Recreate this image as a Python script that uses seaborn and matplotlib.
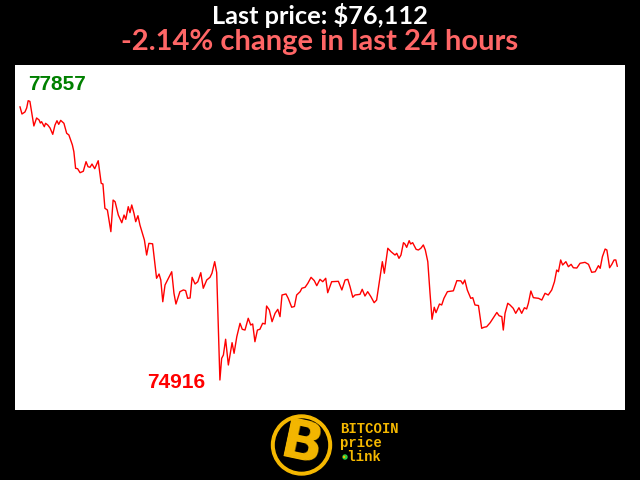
import matplotlib
matplotlib.use("Agg")
import matplotlib.pyplot as plt
from matplotlib.patches import Circle
import seaborn as sns

# hours since start of the 24h window, and BTC price (USD)
hours = [0.00, 0.08, 0.20, 0.27, 0.33, 0.40, 0.56, 0.67, 0.77, 0.82, 0.87, 0.98,
         1.03, 1.12, 1.21, 1.32, 1.41, 1.49, 1.56, 1.64, 1.77, 1.88, 1.97, 2.04,
         2.11, 2.17, 2.24, 2.32, 2.42, 2.55, 2.66, 2.74, 2.82, 2.90, 3.01, 3.15,
         3.27, 3.34, 3.42, 3.52, 3.66, 3.75, 3.83, 3.96, 4.10, 4.19, 4.26, 4.36,
         4.43, 4.50, 4.59, 4.66, 4.75, 4.83, 4.93, 5.01, 5.10, 5.19, 5.34, 5.50,
         5.60, 5.67, 5.75, 5.84, 6.11, 6.20, 6.28, 6.44, 6.58, 6.67, 6.75, 6.85,
         6.93, 7.05, 7.16, 7.28, 7.38, 7.52, 7.65, 7.73, 7.84, 7.92, 8.05, 8.12,
         8.19, 8.28, 8.39, 8.54, 8.62, 8.73, 8.86, 8.95, 9.06, 9.19, 9.29, 9.37,
         9.46, 9.56, 9.66, 9.77, 9.87, 9.93, 10.04, 10.15, 10.27, 10.38, 10.47, 10.55,
         10.71, 10.80, 10.94, 11.05, 11.14, 11.28, 11.35, 11.48, 11.59, 11.72, 11.85, 11.95,
         12.08, 12.19, 12.31, 12.39, 12.55, 12.82, 12.96, 13.09, 13.20, 13.29, 13.40, 13.49,
         13.69, 13.78, 13.89, 14.00, 14.13, 14.26, 14.36, 14.46, 14.59, 14.67, 14.81, 14.94,
         15.10, 15.17, 15.26, 15.34, 15.44, 15.50, 15.57, 15.67, 15.73, 15.81, 15.95, 16.04,
         16.14, 16.24, 16.32, 16.42, 16.51, 16.59, 16.68, 16.75, 16.89, 16.98, 17.07, 17.21,
         17.45, 17.59, 17.75, 17.83, 17.91, 18.01, 18.15, 18.23, 18.32, 18.46, 18.59, 18.68,
         18.79, 18.93, 19.20, 19.29, 19.40, 19.46, 19.53, 19.64, 19.73, 19.86, 19.96, 20.09,
         20.20, 20.31, 20.40, 20.47, 20.57, 20.67, 20.88, 21.01, 21.14, 21.27, 21.41, 21.52,
         21.61, 21.68, 21.77, 21.85, 21.98, 22.08, 22.19, 22.28, 22.42, 22.55, 22.75, 22.89,
         23.02, 23.16, 23.29, 23.36, 23.45, 23.56, 23.63, 23.74, 23.83, 23.92, 23.99, 24.05]

prices = [77794, 77717, 77738, 77780, 77857, 77850, 77591, 77675, 77654, 77622, 77636, 77583,
          77619, 77601, 77570, 77503, 77601, 77646, 77608, 77650, 77619, 77514, 77496, 77443,
          77391, 77320, 77145, 77141, 77099, 77114, 77215, 77162, 77156, 77190, 77141, 77225,
          76987, 76980, 76724, 76706, 76478, 76811, 76793, 76653, 76572, 76653, 76608, 76741,
          76678, 76759, 76671, 76583, 76646, 76548, 76461, 76390, 76232, 76355, 76350, 75987,
          76032, 75969, 75740, 75916, 76056, 75829, 75716, 75846, 75864, 75857, 75776, 75780,
          75997, 75927, 75951, 76046, 75882, 75969, 75997, 76040, 76162, 76048, 74916, 75144,
          75179, 75345, 75074, 75309, 75197, 75372, 75513, 75450, 75442, 75566, 75495, 75506,
          75319, 75442, 75450, 75513, 75506, 75695, 75653, 75530, 75618, 75660, 75583, 75811,
          75822, 75776, 75682, 75690, 75811, 75846, 75882, 75892, 75934, 75997, 75962, 75909,
          75976, 75951, 75987, 75835, 75951, 75955, 75864, 75969, 75976, 75898, 75787, 75811,
          75818, 75871, 75800, 75846, 75793, 75730, 75758, 75934, 76162, 76040, 76303, 76267,
          76232, 76250, 76197, 76232, 76362, 76348, 76313, 76383, 76348, 76362, 76292, 76285,
          76303, 76338, 76285, 76162, 75829, 75555, 75682, 75625, 75716, 75706, 75776, 75846,
          75855, 75962, 75960, 75927, 75969, 75864, 75776, 75783, 75706, 75700, 75460, 75471,
          75477, 75519, 75627, 75593, 75583, 75442, 75618, 75724, 75706, 75671, 75618, 75677,
          75618, 75677, 75664, 75724, 75853, 75783, 75776, 75758, 75829, 75811, 75864, 75951,
          76074, 76056, 76180, 76127, 76162, 76109, 76134, 76098, 76095, 76145, 76155, 76134,
          76050, 76056, 76120, 76092, 76214, 76295, 76285, 76098, 76134, 76180, 76180, 76112]

title_line = "Last price: $76,112"
change_line = "-2.14% change in last 24 hours"

sns.set_style("white")
plt.rcParams['font.family'] = ['Lato', 'DejaVu Sans']

fig = plt.figure(figsize=(6.4, 4.8), dpi=100, facecolor="black")
ax = fig.add_axes([15/640, 70/480, 610/640, 345/480])
ax.set_facecolor("white")

sns.lineplot(x=hours, y=prices, ax=ax, color="red", linewidth=1, estimator=None, sort=False)

ax.set_xlim(-0.20, 24.36)
ax.set_ylim(74600, 78233)
ax.set_xticks([])
ax.set_yticks([])
ax.set_xlabel("")
ax.set_ylabel("")
for s in ax.spines.values():
    s.set_visible(False)

# high / low labels
imax = prices.index(max(prices))
imin = prices.index(min(prices))
ax.annotate(str(max(prices)), (hours[imax], prices[imax]), xytext=(0, 16),
            textcoords="offset pixels", ha="left", va="center", color="green",
            fontsize=15, fontweight="bold", family="Liberation Sans")
ax.annotate(str(min(prices)), (hours[imin], prices[imin]), xytext=(-15, -3),
            textcoords="offset pixels", ha="right", va="center", color="red",
            fontsize=15, fontweight="bold", family="Liberation Sans")

fig.text(0.5, 1 - 16/480, title_line, color="white", fontsize=18.3, fontweight="bold",
         ha="center", va="center")
fig.text(0.5, 1 - 42/480, change_line, color="#ff6666", fontsize=21, fontweight="bold",
         ha="center", va="center")

# logo
gold = "#f5b800"
lax = fig.add_axes([0, 0, 1, 70/480])
lax.set_xlim(0, 640)
lax.set_ylim(0, 70)
lax.axis("off")
lax.add_patch(Circle((301.5, 35), 30, color=gold))
lax.add_patch(Circle((301.5, 35), 26, color="black"))
lax.text(302, 34, "B", color=gold, fontsize=40, fontweight="heavy", ha="center", va="center",
         rotation=-12, family="DejaVu Sans")
lax.text(340, 51, "BITCOIN", color=gold, fontsize=10, fontweight="bold", ha="left", va="center",
         family="Liberation Mono")
lax.text(340, 37, "price", color=gold, fontsize=10, fontweight="bold", ha="left", va="center",
         family="Liberation Mono")
lax.text(340, 23, "\u00b7link", color=gold, fontsize=10, fontweight="bold", ha="left", va="center",
         family="Liberation Mono")
lax.add_patch(Circle((345, 23), 2, color="#2ecc40"))

fig.savefig("out.png", dpi=100, facecolor="black")
